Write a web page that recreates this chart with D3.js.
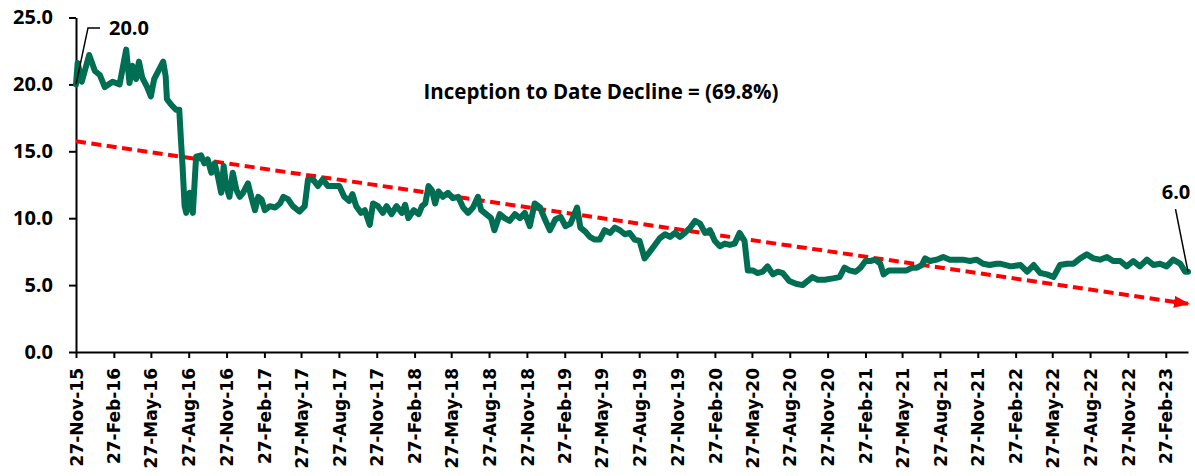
<!DOCTYPE html>
<html>
<head>
<meta charset="utf-8">
<script src="https://cdn.jsdelivr.net/npm/d3@7"></script>
<style>
  body { margin: 0; background: #fff; }
  svg { display: block; }
</style>
</head>
<body>
<div id="chart"></div>
<script>
// rate series, roughly every two weeks
const dates = [
  "2015-11-27","2015-12-01","2015-12-11","2015-12-29","2016-01-12","2016-01-24","2016-02-05","2016-02-24",
  "2016-03-12","2016-03-28","2016-04-05","2016-04-12","2016-04-21","2016-04-28","2016-05-06","2016-05-18",
  "2016-05-27","2016-06-04","2016-06-14","2016-06-26","2016-07-02","2016-07-05","2016-07-15","2016-07-27",
  "2016-08-04","2016-08-08","2016-08-12","2016-08-17","2016-08-21","2016-08-29","2016-09-06","2016-09-14",
  "2016-09-26","2016-10-04","2016-10-12","2016-10-21","2016-10-29","2016-11-06","2016-11-14","2016-11-20",
  "2016-11-26","2016-12-04","2016-12-12","2016-12-21","2016-12-29","2017-01-06","2017-01-18","2017-01-26",
  "2017-02-04","2017-02-12","2017-02-20","2017-02-28","2017-03-12","2017-03-25","2017-04-06","2017-04-14",
  "2017-04-26","2017-05-07","2017-05-23","2017-06-05","2017-06-13","2017-06-25","2017-07-07","2017-07-19",
  "2017-07-31","2017-08-12","2017-08-28","2017-09-09","2017-09-21","2017-09-29","2017-10-08","2017-10-20",
  "2017-10-29","2017-11-10","2017-11-18","2017-11-30","2017-12-12","2017-12-21","2018-01-02","2018-01-14",
  "2018-01-27","2018-02-04","2018-02-12","2018-02-25","2018-03-09","2018-03-17","2018-03-25","2018-04-02",
  "2018-04-10","2018-04-18","2018-04-26","2018-05-07","2018-05-19","2018-05-31","2018-06-13","2018-06-25",
  "2018-07-07","2018-07-19","2018-07-31","2018-08-08","2018-08-20","2018-09-01","2018-09-09","2018-09-22",
  "2018-10-04","2018-10-16","2018-10-29","2018-11-10","2018-11-22","2018-12-04","2018-12-16","2018-12-29",
  "2019-01-10","2019-01-22","2019-02-04","2019-02-17","2019-03-01","2019-03-13","2019-03-29","2019-04-06",
  "2019-04-18","2019-04-29","2019-05-11","2019-05-23","2019-06-04","2019-06-17","2019-06-29","2019-07-11",
  "2019-07-23","2019-08-04","2019-08-16","2019-08-28","2019-09-09","2019-09-22","2019-10-04","2019-10-16",
  "2019-10-29","2019-11-10","2019-11-22","2019-12-04","2019-12-16","2019-12-29","2020-01-10","2020-01-22",
  "2020-02-03","2020-02-15","2020-02-27","2020-03-10","2020-03-22","2020-04-03","2020-04-15","2020-04-27",
  "2020-05-09","2020-05-17","2020-05-29","2020-06-10","2020-06-22","2020-07-04","2020-07-17","2020-07-29",
  "2020-08-10","2020-08-26","2020-09-11","2020-09-27","2020-10-09","2020-10-21","2020-11-03","2020-11-20",
  "2020-12-10","2020-12-26","2021-01-07","2021-01-19","2021-02-03","2021-02-15","2021-02-27","2021-03-11",
  "2021-03-23","2021-04-04","2021-04-12","2021-04-25","2021-05-06","2021-05-22","2021-06-07","2021-06-20",
  "2021-07-02","2021-07-14","2021-07-22","2021-08-03","2021-08-19","2021-09-04","2021-09-20","2021-10-07",
  "2021-10-22","2021-11-08","2021-11-24","2021-12-10","2021-12-26","2022-01-12","2022-01-20","2022-02-15",
  "2022-03-11","2022-03-27","2022-04-12","2022-04-28","2022-05-14","2022-05-30","2022-06-15","2022-07-02",
  "2022-07-18","2022-08-03","2022-08-19","2022-09-04","2022-09-20","2022-10-07","2022-10-22","2022-11-08",
  "2022-11-24","2022-12-10","2022-12-26","2023-01-12","2023-01-28","2023-02-13","2023-03-01","2023-03-17",
  "2023-04-03","2023-04-15","2023-04-22"
];
const values = [
  20.0,21.6,20.2,22.2,21.0,20.7,19.8,20.2,
  20.0,22.6,20.1,21.4,20.4,21.7,20.5,19.8,
  19.1,20.4,21.0,21.7,20.6,18.9,18.5,18.1,
  18.1,15.9,13.9,10.9,10.4,11.9,10.4,14.6,
  14.7,14.1,14.4,13.4,14.1,13.1,11.9,13.9,
  12.4,11.6,13.4,12.1,11.6,11.9,12.6,11.6,
  10.6,11.6,11.4,10.6,10.9,10.8,11.1,11.6,
  11.4,10.9,10.5,10.9,12.9,12.9,12.4,12.9,
  12.4,12.4,12.4,11.6,11.3,11.8,10.9,10.4,
  10.6,9.5,11.1,10.9,10.4,10.9,10.3,10.9,
  10.4,11.0,10.0,10.6,10.3,10.9,11.1,12.4,
  12.1,11.1,12.0,11.6,11.9,11.5,11.6,10.8,
  10.4,10.8,11.6,10.6,10.3,10.0,9.1,10.3,
  10.0,9.8,10.3,10.0,10.4,9.4,11.1,10.8,
  9.9,9.1,9.9,10.1,9.4,9.6,10.8,9.3,
  9.0,8.6,8.4,8.4,9.1,8.9,9.3,9.1,
  8.8,8.9,8.4,8.3,7.0,7.5,8.0,8.5,
  8.8,8.6,8.9,8.6,8.9,9.3,9.8,9.6,
  8.9,9.1,8.3,7.9,8.1,8.0,8.1,8.9,
  8.3,6.1,6.1,5.9,6.0,6.4,5.8,6.0,
  5.9,5.3,5.1,5.0,5.3,5.6,5.4,5.4,
  5.5,5.6,6.3,6.1,6.0,6.3,6.8,6.8,
  6.9,6.6,5.8,6.1,6.1,6.1,6.1,6.3,
  6.3,6.5,7.0,6.8,6.9,7.1,6.9,6.9,
  6.9,6.8,6.9,6.6,6.5,6.6,6.6,6.4,
  6.5,6.0,6.5,5.9,5.8,5.6,6.5,6.6,
  6.6,7.0,7.3,7.0,6.9,7.1,6.8,6.8,
  6.4,6.8,6.4,6.9,6.5,6.6,6.4,6.9,
  6.6,6.0,6.0
];
const trendValues = [15.75, 3.6];
const yTicks = [0, 5, 10, 15, 20, 25];
const firstTickDate = "2015-11-27";
const tickCount = 30;
const noteText = "Inception to Date Decline = (69.8%)";

const width = 1195;
const height = 476;
const margin = {top: 17.5, right: 7, bottom: 124, left: 76};

const parse = d3.timeParse("%Y-%m-%d");
const data = dates.map((d, i) => ({date: parse(d), value: values[i]}));
const tickDates = d3.range(tickCount).map(i => d3.timeMonth.offset(parse(firstTickDate), i * 3));

const svg = d3.select("#chart")
  .append("svg")
  .attr("width", width)
  .attr("height", height);

const x = d3.scaleTime()
  .domain(d3.extent(data, d => d.date))
  .range([margin.left, width - margin.right]);

const y = d3.scaleLinear()
  .domain([0, 25])
  .range([height - margin.bottom, margin.top]);

svg.append("defs").append("marker")
  .attr("id", "arrow")
  .attr("markerUnits", "userSpaceOnUse")
  .attr("markerWidth", 16)
  .attr("markerHeight", 12)
  .attr("refX", 14)
  .attr("refY", 6)
  .attr("orient", "auto")
  .append("path")
  .attr("d", "M0,0L16,6L0,12Z")
  .attr("fill", "#ff0000");

// x axis
const xAxis = svg.append("g")
  .attr("transform", "translate(0," + y(0) + ")")
  .call(d3.axisBottom(x)
    .tickValues(tickDates)
    .tickFormat(d3.timeFormat("%d-%b-%y"))
    .tickSize(6)
    .tickSizeOuter(0));

xAxis.selectAll("text")
  .attr("transform", "rotate(-90)")
  .attr("x", -16)
  .attr("y", 0)
  .attr("dy", "0.36em")
  .attr("text-anchor", "end")
  .attr("fill", "#000")
  .style("font-family", "'DejaVu Sans', sans-serif")
  .style("font-weight", "bold")
  .style("font-size", "17px");

// y axis
const yAxis = svg.append("g")
  .attr("transform", "translate(" + margin.left + ",0)")
  .call(d3.axisLeft(y)
    .tickValues(yTicks)
    .tickFormat(d3.format(".1f"))
    .tickSize(7)
    .tickPadding(16)
    .tickSizeOuter(0));

yAxis.selectAll("text")
  .attr("fill", "#000")
  .style("font-family", "'Open Sans', sans-serif")
  .style("font-weight", "bold")
  .style("font-size", "20px");

svg.selectAll(".domain, .tick line")
  .attr("stroke", "#000")
  .attr("stroke-width", 2);

// trend line
const x0 = x.domain()[0], x1 = x.domain()[1];
svg.append("line")
  .attr("x1", x(x0))
  .attr("y1", y(trendValues[0]))
  .attr("x2", x(x1))
  .attr("y2", y(trendValues[1]))
  .attr("stroke", "#ff0000")
  .attr("stroke-width", 4)
  .attr("stroke-dasharray", "10,5.5")
  .attr("marker-end", "url(#arrow)");

// main series
const line = d3.line()
  .x(d => x(d.date))
  .y(d => y(d.value));

svg.append("path")
  .datum(data)
  .attr("d", line)
  .attr("fill", "none")
  .attr("stroke", "#006e53")
  .attr("stroke-width", 6)
  .attr("stroke-linejoin", "round")
  .attr("stroke-linecap", "round");

// annotations
const first = data[0];
const last = data[data.length - 1];
const fx = x(first.date), fy = y(first.value);
const lx = x(last.date), ly = y(last.value);

svg.append("path")
  .attr("d", "M" + fx + "," + fy + "L" + (fx + 12) + "," + (fy - 56.5) + "L" + (fx + 24) + "," + (fy - 56.5))
  .attr("fill", "none")
  .attr("stroke", "#000")
  .attr("stroke-width", 1.5);

svg.append("path")
  .attr("d", "M" + lx + "," + ly + "L" + (lx - 12.5) + "," + (ly - 62.5))
  .attr("fill", "none")
  .attr("stroke", "#000")
  .attr("stroke-width", 1.5);

const label = g => g
  .style("font-family", "'Open Sans', sans-serif")
  .style("font-weight", "bold")
  .style("font-size", "20px")
  .attr("fill", "#000");

svg.append("text")
  .attr("x", fx + 33)
  .attr("y", fy - 56.5)
  .attr("dy", "0.36em")
  .text(d3.format(".1f")(first.value))
  .call(label);

svg.append("text")
  .attr("x", lx - 12)
  .attr("y", ly - 73)
  .attr("text-anchor", "middle")
  .text(d3.format(".1f")(last.value))
  .call(label);

svg.append("text")
  .attr("x", 601)
  .attr("y", 99)
  .attr("text-anchor", "middle")
  .text(noteText)
  .call(label)
  .style("font-size", "20.5px");
</script>
</body>
</html>
